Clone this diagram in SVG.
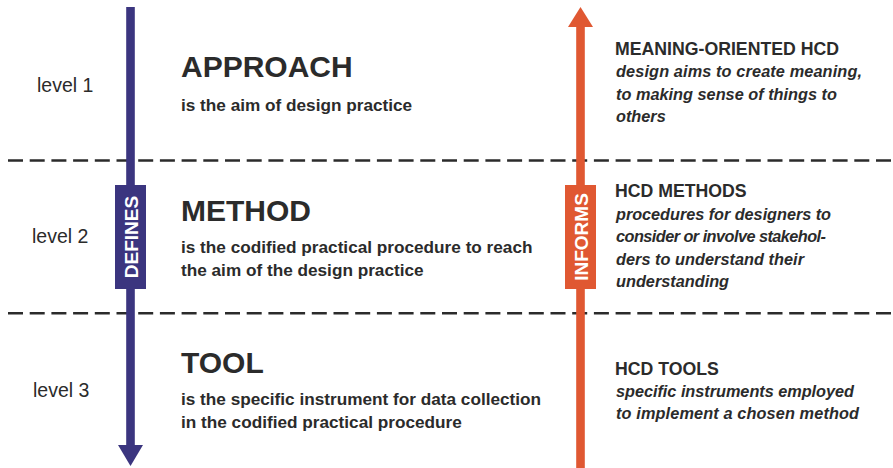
<svg xmlns="http://www.w3.org/2000/svg" width="893" height="468" viewBox="0 0 893 468">
<style>
text{font-family:"Liberation Sans",Arial,sans-serif;fill:#2b2b2b}
.lvl{font-size:19.5px}
.h{font-size:30px;font-weight:bold}
.d{font-size:17.2px;font-weight:bold}
.rh{font-size:17.7px;font-weight:bold}
.ri{font-size:16.3px;font-weight:bold;font-style:italic}
.lab{font-size:19px;font-weight:bold;fill:#ffffff}
.sep{stroke:#2b2b2b;stroke-width:2.5;stroke-dasharray:15 6.7;fill:none}
</style>
<rect width="893" height="468" fill="#ffffff"/>
<g id="separators">
<line class="sep" x1="8" y1="160.5" x2="893" y2="160.5"/>
<line class="sep" x1="8" y1="313.3" x2="893" y2="313.3"/>
</g>
<g id="connectors">
<g id="defines-arrow">
<rect x="126.2" y="7" width="8.6" height="440" fill="#3b357f"/>
<polygon points="118,445 143,445 130.5,466" fill="#3b357f"/>
</g>
<g id="informs-arrow">
<rect x="576.2" y="25" width="8.6" height="443" fill="#e05832"/>
<polygon points="568,27 593,27 580.5,7" fill="#e05832"/>
</g>
</g>
<g id="defines-label">
<rect x="115" y="185" width="31" height="104" fill="#3b357f"/>
<text class="lab" transform="translate(137.5,237) rotate(-90)" text-anchor="middle">DEFINES</text>
</g>
<g id="informs-label">
<rect x="565" y="185" width="31" height="104" fill="#e05832"/>
<text class="lab" transform="translate(587.5,237) rotate(-90)" text-anchor="middle">INFORMS</text>
</g>
<g id="level1"><text class="lvl" x="37" y="92">level 1</text></g>
<g id="level2"><text class="lvl" x="32" y="243">level 2</text></g>
<g id="level3"><text class="lvl" x="33" y="397">level 3</text></g>
<g id="approach">
<text class="h" x="181" y="77">APPROACH</text>
<text class="d" x="181" y="111">is the aim of design practice</text>
</g>
<g id="method">
<text class="h" x="181" y="221">METHOD</text>
<text class="d" x="181" y="253">is the codified practical procedure to reach</text>
<text class="d" x="181" y="276">the aim of the design practice</text>
</g>
<g id="tool">
<text class="h" x="181" y="373">TOOL</text>
<text class="d" x="181" y="405">is the specific instrument for data collection</text>
<text class="d" x="181" y="428">in the codified practical procedure</text>
</g>
<g id="meaning-oriented-hcd">
<text class="rh" x="615" y="55">MEANING-ORIENTED HCD</text>
<text class="ri" x="616" y="77" textLength="246" lengthAdjust="spacing">design aims to create meaning,</text>
<text class="ri" x="616" y="100" textLength="221" lengthAdjust="spacing">to making sense of things to</text>
<text class="ri" x="616" y="122">others</text>
</g>
<g id="hcd-methods">
<text class="rh" x="615" y="197">HCD METHODS</text>
<text class="ri" x="616" y="220" textLength="215" lengthAdjust="spacing">procedures for designers to</text>
<text class="ri" x="616" y="242" textLength="210" lengthAdjust="spacing">consider or involve stakehol-</text>
<text class="ri" x="616" y="265" textLength="188" lengthAdjust="spacing">ders to understand their</text>
<text class="ri" x="616" y="287">understanding</text>
</g>
<g id="hcd-tools">
<text class="rh" x="615" y="375">HCD TOOLS</text>
<text class="ri" x="616" y="397" textLength="238" lengthAdjust="spacing">specific instruments employed</text>
<text class="ri" x="616" y="419" textLength="243" lengthAdjust="spacing">to implement a chosen method</text>
</g>
</svg>
